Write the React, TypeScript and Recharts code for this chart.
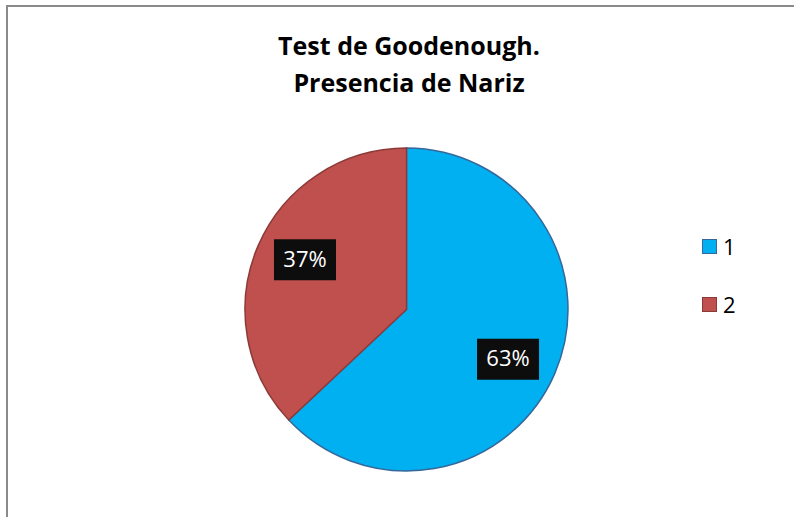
import { PieChart, Pie, Cell } from 'recharts'

const categories = ['1', '2']
const shares = [63, 37]
const fills = ['#00B0F0', '#C0504D']
const strokes = ['#36679a', '#8c3a38']

const data = categories.map((name, i) => ({ name, value: shares[i] }))

const RAD = Math.PI / 180

function BoxLabel(props: any) {
  const { cx, cy, midAngle, outerRadius, percent } = props
  // Excel nudges the boxes a touch clockwise from the true mid angle
  const a = midAngle - 2.7
  const r = outerRadius * 0.7
  const x = cx + r * Math.cos(-a * RAD)
  const y = cy + r * Math.sin(-a * RAD)
  const w = 62
  const h = 41
  return (
    <g>
      <rect x={x - w / 2} y={y - h / 2} width={w} height={h} fill="#0d0d0d" />
      <text
        x={x}
        y={y + 1}
        textAnchor="middle"
        dominantBaseline="middle"
        fill="#ffffff"
        fontFamily="'Open Sans', sans-serif"
        fontSize={22}
      >
        {`${Math.round(percent * 100)}%`}
      </text>
    </g>
  )
}

export default function App() {
  return (
    <div style={{ position: 'absolute', left: 0, top: 0, width: 794, height: 517, background: '#fff', overflow: 'hidden' }}>
      {/* chart frame, runs off the right and bottom edge */}
      <div
        style={{
          position: 'absolute', left: 6, top: 5, width: 820, height: 540,
          border: '2px solid #8a8a8a', boxSizing: 'border-box',
        }}
      />
      <div
        style={{
          position: 'absolute', left: 0, top: 27, width: 818, textAlign: 'center',
          fontFamily: "'Open Sans', sans-serif", fontWeight: 700, fontSize: 25,
          lineHeight: '37px', color: '#000',
        }}
      >
        Test de Goodenough.
        <br />
        Presencia de Nariz
      </div>
      <div style={{ position: 'absolute', left: 0, top: 0 }}>
        <PieChart width={794} height={517} margin={{ top: 0, right: 0, bottom: 0, left: 0 }}>
          <Pie
            data={data}
            dataKey="value"
            nameKey="name"
            cx={406.5}
            cy={309.5}
            outerRadius={161.5}
            startAngle={90}
            endAngle={-270}
            label={BoxLabel}
            labelLine={false}
            isAnimationActive={false}
          >
            {data.map((d, i) => (
              <Cell key={d.name} fill={fills[i]} stroke={strokes[i]} strokeWidth={1.5} />
            ))}
          </Pie>
        </PieChart>
      </div>
      {categories.map((c, i) => (
        <div
          key={c}
          style={{
            position: 'absolute', left: 702, top: 232 + i * 58, height: 28,
            display: 'flex', alignItems: 'center', gap: 6,
            fontFamily: "'Open Sans', sans-serif", fontSize: 22, color: '#000',
          }}
        >
          <div style={{ width: 13, height: 13, background: fills[i], border: `1.5px solid ${strokes[i]}` }} />
          <span>{c}</span>
        </div>
      ))}
    </div>
  )
}
